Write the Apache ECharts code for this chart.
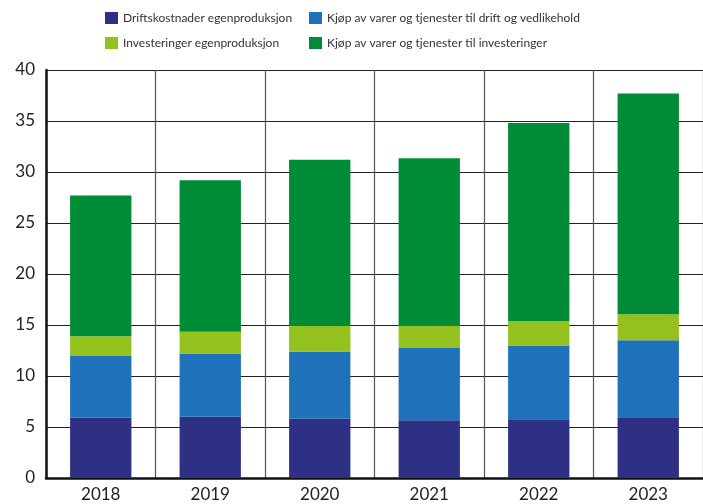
<!DOCTYPE html>
<html>
<head>
<meta charset="utf-8">
<script src="https://cdn.jsdelivr.net/npm/echarts@6/dist/echarts.min.js"></script>
<style>
  html, body { margin: 0; padding: 0; background: #fff; }
  #chart { width: 703px; height: 504px; }
</style>
</head>
<body>
<div id="chart"></div>
<script>
// Years on the category axis
const years = ['2018', '2019', '2020', '2021', '2022', '2023'];

// Series names (legend text)
const nameDrift = 'Driftskostnader egenproduksjon';
const nameKjopDrift = 'Kjøp av varer og tjenester til drift og vedlikehold';
const nameInvEgen = 'Investeringer egenproduksjon';
const nameKjopInv = 'Kjøp av varer og tjenester til investeringer';

// Stacked values per year
const driftEgen = [5.9, 6.0, 5.8, 5.65, 5.75, 5.95];
const kjopDrift = [6.05, 6.2, 6.6, 7.1, 7.25, 7.55];
const invEgen = [1.95, 2.15, 2.5, 2.2, 2.4, 2.55];
const kjopInv = [13.8, 14.85, 16.3, 16.4, 19.4, 21.65];

// Value axis ticks
const yMin = 0, yMax = 40, yStep = 5;

const colors = {
  drift: '#2e3083',
  kjopDrift: '#1f72b9',
  invEgen: '#95c11f',
  kjopInv: '#008c36'
};

const font = 'Lato, "Noto Sans", sans-serif';

function legendAt(name, left, top) {
  return {
    data: [name],
    left: left,
    top: top,
    padding: 0,
    itemWidth: 13,
    itemHeight: 12,
    itemGap: 0,
    icon: 'rect',
    selectedMode: false,
    textStyle: { fontFamily: font, fontSize: 12, color: '#333' }
  };
}

function bar(name, data, color) {
  return {
    name: name,
    type: 'bar',
    stack: 'total',
    data: data,
    barWidth: '56%',
    itemStyle: { color: color },
    emphasis: { disabled: true }
  };
}

const chart = echarts.init(document.getElementById('chart'), null, { renderer: 'canvas' });
chart.setOption({
  animation: false,
  backgroundColor: '#fff',
  legend: [
    legendAt(nameDrift, 105, 12),
    legendAt(nameKjopDrift, 309, 12),
    legendAt(nameInvEgen, 105, 37),
    legendAt(nameKjopInv, 309, 37)
  ],
  grid: { left: 46, top: 70, width: 660, height: 408, containLabel: false },
  xAxis: {
    type: 'category',
    data: years,
    boundaryGap: true,
    axisLine: { show: true, lineStyle: { color: '#111', width: 2.5 } },
    axisTick: { show: false },
    axisLabel: { fontFamily: font, fontSize: 17, color: '#222', margin: 8 },
    splitLine: { show: true, lineStyle: { color: '#555', width: 1.2 } }
  },
  yAxis: {
    type: 'value',
    min: yMin,
    max: yMax,
    interval: yStep,
    axisLine: { show: true, lineStyle: { color: '#111', width: 2.5 } },
    axisTick: { show: false },
    axisLabel: { fontFamily: font, fontSize: 17, color: '#222', margin: 11 },
    splitLine: { show: true, lineStyle: { color: '#222', width: 1.2 } }
  },
  series: [
    bar(nameDrift, driftEgen, colors.drift),
    bar(nameKjopDrift, kjopDrift, colors.kjopDrift),
    bar(nameInvEgen, invEgen, colors.invEgen),
    bar(nameKjopInv, kjopInv, colors.kjopInv)
  ]
});
</script>
</body>
</html>
